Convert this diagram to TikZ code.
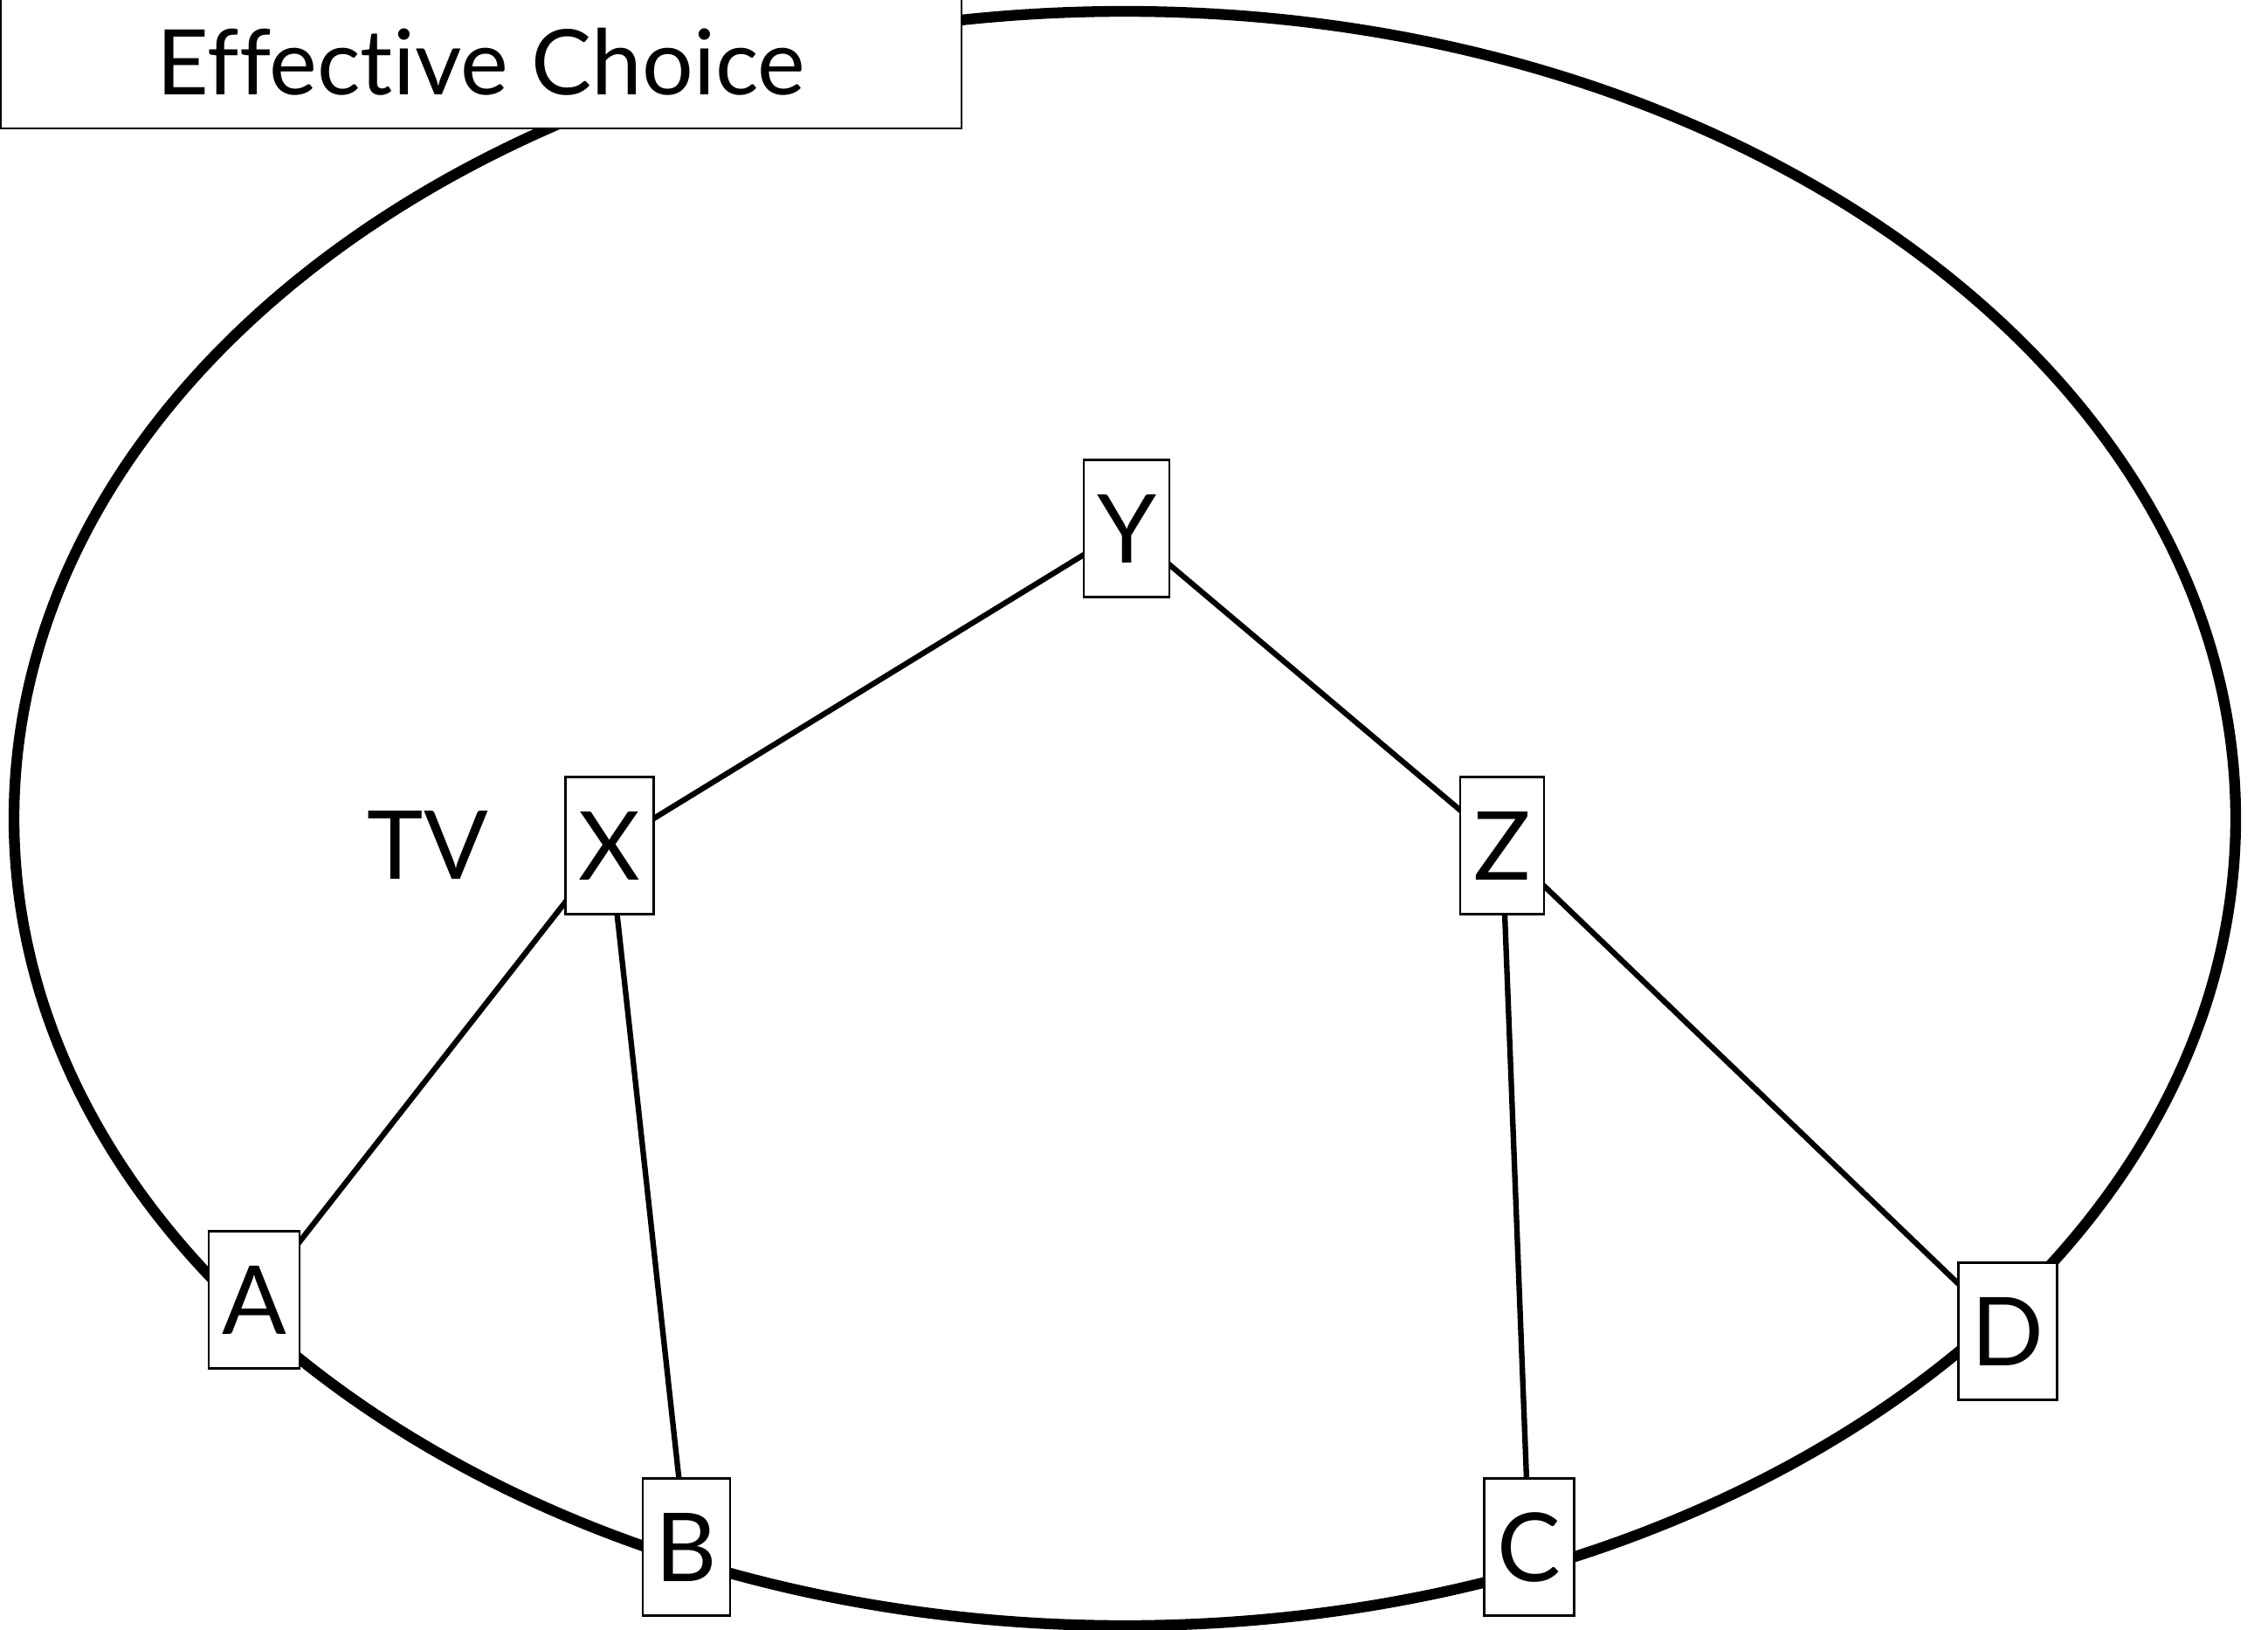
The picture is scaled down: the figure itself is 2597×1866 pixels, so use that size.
\documentclass[tikz,border=0pt]{standalone}
\usepackage{fontspec}
\setmainfont{Lato}[Ligatures=NoCommon]
\usetikzlibrary{backgrounds}

\begin{document}
\begin{tikzpicture}[x=0.1mm, y=-0.1mm, font=\fontsize{31}{37}\selectfont,
      vbox/.style={draw, fill=white, line width=0.7pt, inner xsep=1.5mm, inner ysep=0pt,
                   minimum height=15.7mm},
      link/.style={line width=1.8pt},
      rim/.style={line width=3.5pt}]
    \useasboundingbox (0,0) rectangle (2597,1866);
    % --- vertices ---
    \node[vbox] (y) at (1290,605) {Y};
    \node[vbox] (x) at (698,968) {X};
    \node[vbox] (z) at (1720,968) {Z};
    \node[vbox] (a) at (291,1488) {A};
    \node[vbox] (b) at (786,1771) {B};
    \node[vbox] (c) at (1751,1771) {C};
    \node[vbox] (d) at (2299,1524) {D};
    \node (tv) at (490,967) {TV};
    % --- outer loop and edges, behind the boxes ---
    \begin{scope}[on background layer]
      \draw[rim] (1288,937) ellipse [x radius=127.2mm, y radius=92.4mm];
      \draw[link] (x.center) -- (y.center);
      \draw[link] (y.center) -- (z.center);
      \draw[link] (x.center) -- (a.center);
      \draw[link] (x.center) -- (b.center);
      \draw[link] (z.center) -- (c.center);
      \draw[link] (z.center) -- (d.center);
    \end{scope}
    % --- title ---
    \draw[fill=white, line width=0.7pt] (1,-20) rectangle (1101,147);
    \node[anchor=base, font=\fontsize{29.5}{36}\selectfont] (title) at (551,109) {Effective Choice};
\end{tikzpicture}
\end{document}
